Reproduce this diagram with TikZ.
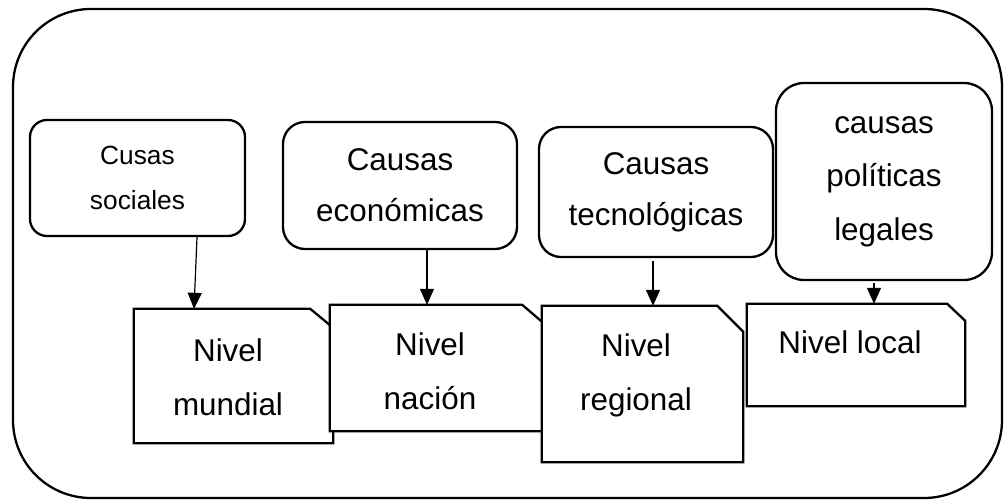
\documentclass[tikz,border=0pt]{standalone}
\usepackage{fontspec}
\setmainfont{Liberation Sans}
\usetikzlibrary{arrows.meta}
\tikzset{
  boxline/.style={draw=black, line width=2.3pt},
  causebox/.style={boxline, fill=white, rectangle, rounded corners=#1, inner sep=0pt, align=center,
     font=\fontsize{31.4}{51}\selectfont},
  levelframe/.style={inner sep=0pt, draw=none},
  leveltext/.style={inner sep=0pt, align=center, font=\fontsize{31.4}{54}\selectfont},
  conn/.style={draw=black, line width=1.2pt, -{Triangle[length=16pt,width=14pt]}}
}
\begin{document}
\begin{tikzpicture}[x=1pt,y=-1pt]
\useasboundingbox (0,0) rectangle (1004,500);
% outer frame
\draw[boxline, rounded corners=78pt] (13,9) rectangle (1002,498);

% cause boxes
\node[causebox=17pt, minimum width=215pt, minimum height=116pt, font=\fontsize{26.3}{45}\selectfont]
  (b1) at (137.5,178) {Cusas\\sociales};
\node[causebox=22pt, minimum width=234pt, minimum height=127pt] (b2) at (400,185.5) {Causas\\económicas};
\node[causebox=22pt, minimum width=234pt, minimum height=130pt] (b3) at (656,192) {Causas\\tecnológicas};
\node[causebox=28pt, minimum width=216pt, minimum height=197pt, font=\fontsize{31.4}{53.5}\selectfont]
  (b4) at (884,181.5) {causas\\políticas\\legales};

% level boxes
\node[levelframe, minimum width=199pt, minimum height=134pt] (A) at (233.5,376) {};
\draw[boxline, fill=white] (A.south west) -- (A.north west) -- ([xshift=-23pt]A.north east)
  -- ([yshift=-19pt]A.north east) -- (A.south east) -- cycle;
\node[leveltext] (tA) at (228,377.5) {Nivel\\mundial};

\node[levelframe, minimum width=213pt, minimum height=126pt] (B) at (436.5,368) {};
\draw[boxline, fill=white] (B.south west) -- (B.north west) -- ([xshift=-21pt]B.north east)
  -- ([yshift=-18pt]B.north east) -- (B.south east) -- cycle;
\node[leveltext] (tB) at (430,371.5) {Nivel\\nación};

\node[levelframe, minimum width=201pt, minimum height=156pt] (C) at (642.5,384) {};
\draw[boxline, fill=white] (C.south west) -- (C.north west) -- ([xshift=-26pt]C.north east)
  -- ([yshift=-26pt]C.north east) -- (C.south east) -- cycle;
\node[leveltext] (tC) at (636,375.5) {Nivel\\regional};

\node[levelframe, minimum width=218pt, minimum height=102pt] (D) at (856,355) {};
\draw[boxline, fill=white] (D.south west) -- (D.north west) -- ([xshift=-18pt]D.north east)
  -- ([yshift=-17pt]D.north east) -- (D.south east) -- cycle;
\node[leveltext] (tD) at (850,342.5) {Nivel local};

% connectors
\draw[conn] ([xshift=59.5pt]b1.south) -- ([xshift=-39.5pt]A.north);
\draw[conn] ([xshift=27pt]b2.south) -- ([xshift=-9.5pt]B.north);
\draw[conn] ([xshift=-3pt,yshift=-3pt]b3.south) -- ([xshift=10.5pt]C.north);
\draw[conn] ([xshift=-10pt,yshift=-2pt]b4.south) -- ([xshift=18pt]D.north);
\end{tikzpicture}
\end{document}
